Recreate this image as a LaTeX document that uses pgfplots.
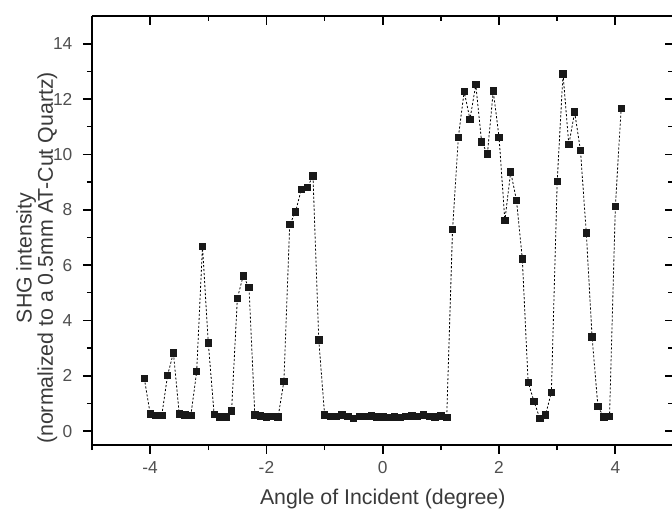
\documentclass[border=0pt]{standalone}
\usepackage{pgfplots}
\pgfplotsset{compat=1.18}
\usepackage{pgfplotstable}
\usepackage{fontspec}
\setmainfont{Liberation Sans}
\definecolor{tickgray}{HTML}{505050}
\definecolor{labgray}{HTML}{3A3A3A}
\pgfplotstableread{
x y
-4.1 1.90
-4.0 0.63
-3.9 0.57
-3.8 0.57
-3.7 2.02
-3.6 2.83
-3.5 0.63
-3.4 0.59
-3.3 0.57
-3.2 2.15
-3.1 6.67
-3.0 3.19
-2.9 0.61
-2.8 0.52
-2.7 0.52
-2.6 0.73
-2.5 4.80
-2.4 5.61
-2.3 5.19
-2.2 0.59
-2.1 0.55
-2.0 0.51
-1.9 0.53
-1.8 0.51
-1.7 1.80
-1.6 7.46
-1.5 7.92
-1.4 8.74
-1.3 8.80
-1.2 9.22
-1.1 3.29
-1.0 0.59
-0.9 0.53
-0.8 0.53
-0.7 0.59
-0.6 0.53
-0.5 0.47
-0.4 0.53
-0.3 0.53
-0.2 0.55
-0.1 0.51
0.0 0.51
0.1 0.49
0.2 0.52
0.3 0.50
0.4 0.53
0.5 0.55
0.6 0.53
0.7 0.59
0.8 0.53
0.9 0.51
1.0 0.55
1.1 0.50
1.2 7.28
1.3 10.62
1.4 12.27
1.5 11.27
1.6 12.52
1.7 10.45
1.8 10.02
1.9 12.29
2.0 10.62
2.1 7.61
2.2 9.37
2.3 8.34
2.4 6.23
2.5 1.77
2.6 1.08
2.7 0.47
2.8 0.59
2.9 1.41
3.0 9.03
3.1 12.91
3.2 10.35
3.3 11.53
3.4 10.14
3.5 7.17
3.6 3.40
3.7 0.90
3.8 0.51
3.9 0.54
4.0 8.11
4.1 11.67
}\datatable
\pgfplotsset{
  common/.style={
    scale only axis,
    width=436.125pt, height=321.75pt,
    at={(0,0)}, anchor=south west,
    xmin=-5, xmax=5, ymin=-0.5, ymax=15,
    xtick={-4,-2,0,2,4},
    minor xtick={-5,-3,-1,1,3,5},
    ytick={0,2,4,6,8,10,12,14},
    minor ytick={1,3,5,7,9,11,13},
    major tick length=6.75pt,
    minor tick length=3.9pt,
    every tick/.style={black, line width=1.3pt},
    every minor tick/.style={black, line width=1.1pt},
    axis line style={-, black, line width=1.6pt},
  }
}
\begin{document}
\begin{tikzpicture}
\begin{axis}[common,
  axis x line*=top, axis y line*=right,
  tick align=inside,
  xticklabels={}, yticklabels={},
]
\end{axis}
\begin{axis}[common,
  axis x line*=bottom, axis y line*=left,
  tick align=outside,
  /pgf/number format/assume math mode=true,
  ticklabel style={font=\fontsize{13}{15}\selectfont, text=tickgray},
  xticklabels={-4,-2,0,2,4},
  xticklabel style={yshift=-2pt},
  yticklabel style={xshift=-4.5pt},
  xlabel={Angle of Incident (degree)},
  xlabel style={at={(axis description cs:0.5,0)}, anchor=base, yshift=-44.5pt,
    font=\fontsize{16}{18}\selectfont, text=labgray},
  ylabel={SHG intensity\\(normalized to a 0.5mm AT-Cut Quartz)},
  ylabel style={at={(axis description cs:-0.095,0.436)}, anchor=center,
    align=center, font=\fontsize{16}{14.3}\selectfont, text=labgray},
]
\addplot[black, line width=0.6pt, dash pattern=on 1.6pt off 1.4pt,
  mark=square*, mark size=2.4pt, mark options={solid, fill=black!90, draw=black!90}]
  table[x=x, y=y] {\datatable};
\end{axis}
\pgfresetboundingbox
\path (-69pt,-48pt) rectangle (435pt,333.75pt);
\end{tikzpicture}
\end{document}
